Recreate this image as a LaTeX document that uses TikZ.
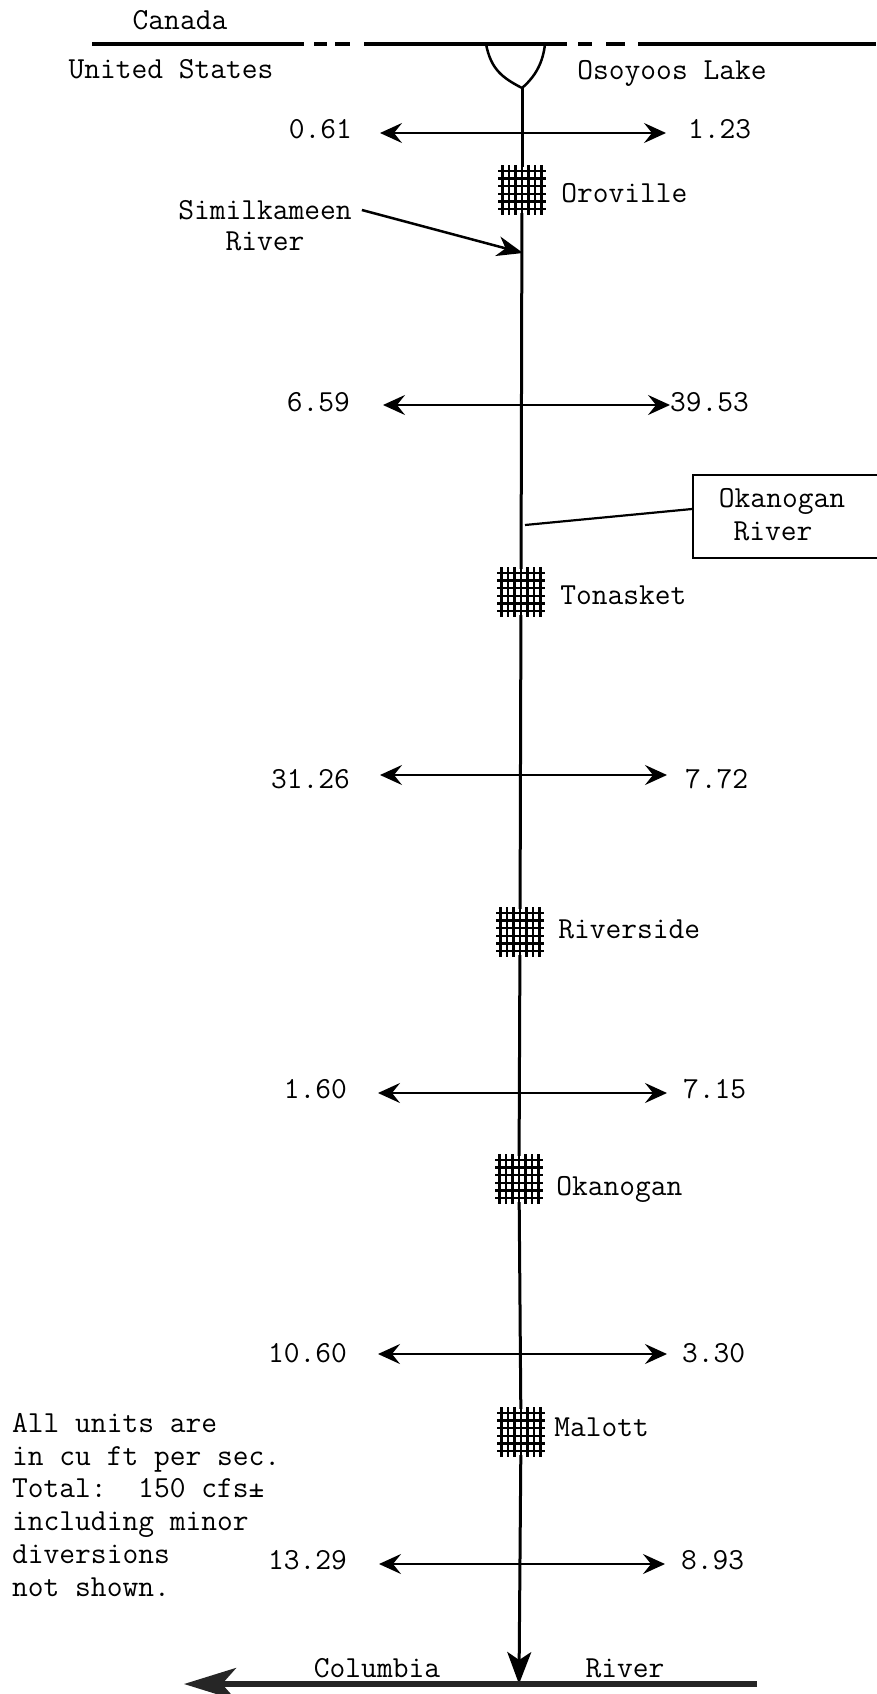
\documentclass[tikz,border=0pt]{standalone}
\usetikzlibrary{positioning,arrows.meta}

\begin{document}
\begin{tikzpicture}[
  x=1pt, y=-1pt,
  font=\ttfamily\fontsize{30.6}{32.8}\selectfont,
  texto/.style={inner sep=0pt, text height=18pt, text depth=0pt},
  nota/.style={inner sep=0pt, align=left, anchor=north west},
  town/.style={inner sep=0pt, minimum width=46pt, minimum height=46pt},
  towngrid/.pic={
    \foreach \gx in {-19.5,-13,-6.5,0,6.5,13,19.5} \draw[line width=2.3pt] (\gx,-25) -- (\gx,25);
    \foreach \gy in {-19,-11.4,-3.8,3.8,11.4,19} \draw[line width=2.3pt] (-24,\gy) -- (24,\gy);
  },
  rio/.style={line width=3pt},
  frontera/.style={line width=3.5pt},
  flujo/.style={{Stealth[length=22pt,width=20pt,inset=8pt]}-{Stealth[length=22pt,width=20pt,inset=8pt]}, line width=2.2pt},
  flecha/.style={-{Stealth[length=26pt,width=20pt,inset=8pt]}, line width=2.5pt}
]
\useasboundingbox (0,0) rectangle (876,1694);

% Frontera y lago
\coordinate (bordew) at (92,44);
\coordinate (bordee) at (876,44);
\coordinate (lakew) at (486,44);
\coordinate (lakee) at (545,44);
\coordinate (lakeend) at (522,88);
\draw[frontera, dash pattern=on 212pt off 10pt on 13pt off 8pt on 15pt off 14pt on 203pt off 11pt on 14pt off 14pt on 19pt off 13pt on 238pt] (bordew) -- (bordee);
\draw[line width=2.5pt] (lakew) .. controls (491,70) and (503,78) .. (lakeend) .. controls (536,76) and (543,62) .. (lakee);
\node[texto] (canada) at (180,21) {Canada};
\node[texto] (us) at (171,69) {United States};
\node[texto] (osoyoos) at (672,71) {Osoyoos Lake};

% Poblaciones
\node[town] (oroville) at (522,190) {};
\node[town] (tonasket) at (521,592) {};
\node[town] (riverside) at (520,932) {};
\node[town] (okanogan) at (519,1179) {};
\node[town] (malott) at (521,1432) {};
\pic at (oroville) {towngrid};
\pic at (tonasket) {towngrid};
\pic at (riverside) {towngrid};
\pic at (okanogan) {towngrid};
\pic at (malott) {towngrid};
\node[texto, right=16pt of oroville, yshift=-3pt] (orovilletxt) {Oroville};
\node[texto, right=16pt of tonasket, yshift=-3pt] (tonaskettxt) {Tonasket};
\node[texto, right=15pt of riverside, yshift=3pt] (riversidetxt) {Riverside};
\node[texto, right=14pt of okanogan, yshift=-7pt] (okanogantxt) {Okanogan};
\node[texto, right=10pt of malott, yshift=5pt] (malotttxt) {Malott};

% Rio Okanogan
\coordinate (confluence) at (519,1684);
\draw[rio] (lakeend) -- (oroville);
\draw[rio] (oroville) -- (tonasket);
\draw[rio] (tonasket) -- (riverside);
\draw[rio] (riverside) -- (okanogan);
\draw[rio] (okanogan) -- (malott);
\draw[rio, -{Stealth[length=32pt,width=24pt,inset=8pt]}] (malott) -- (confluence);

% Caudales
\coordinate (f1w) at (380,133);
\coordinate (f1e) at (666,133);
\node[texto, left=28pt of f1w, yshift=4pt] (q1w) {0.61};
\node[texto, right=22pt of f1e, yshift=4pt] (q1e) {1.23};
\draw[flujo] (f1w) -- (f1e);

\coordinate (f2w) at (383,405);
\coordinate (f2e) at (670,405);
\node[texto, left=33pt of f2w, yshift=3pt] (q2w) {6.59};
\node[texto, right=0pt of f2e, yshift=3pt] (q2e) {39.53};
\draw[flujo] (f2w) -- (f2e);

\coordinate (f3w) at (380,775);
\coordinate (f3e) at (667,775);
\node[texto, left=30pt of f3w, yshift=-4pt] (q3w) {31.26};
\node[texto, right=18pt of f3e, yshift=-4pt] (q3e) {7.72};
\draw[flujo] (f3w) -- (f3e);

\coordinate (f4w) at (378,1093);
\coordinate (f4e) at (667,1093);
\node[texto, left=31pt of f4w, yshift=4pt] (q4w) {1.60};
\node[texto, right=16pt of f4e, yshift=4pt] (q4e) {7.15};
\draw[flujo] (f4w) -- (f4e);

\coordinate (f5w) at (378,1354);
\coordinate (f5e) at (667,1354);
\node[texto, left=31pt of f5w, yshift=1pt] (q5w) {10.60};
\node[texto, right=15pt of f5e, yshift=1pt] (q5e) {3.30};
\draw[flujo] (f5w) -- (f5e);

\coordinate (f6w) at (379,1564);
\coordinate (f6e) at (665,1564);
\node[texto, left=32pt of f6w, yshift=4pt] (q6w) {13.29};
\node[texto, right=16pt of f6e, yshift=4pt] (q6e) {8.93};
\draw[flujo] (f6w) -- (f6e);

% Similkameen
\coordinate (simend) at (523,253);
\node[texto] (simil) at (265,210) {Similkameen};
\node[texto] (simriver) at (265,241) {River};
\draw[flecha] (simil.east) ++(10pt,0pt) coordinate (simstart) -- (simend);

% Caja Okanogan River
\coordinate (okrv) at (525,525);
\node[draw, line width=2pt, inner sep=0pt, minimum width=190pt, minimum height=83pt, anchor=north west] (okbox) at (692,474) {};
\node[texto] (oktxt) at (782,498) {Okanogan};
\node[texto] (okrivertxt) at (773,531) {River};
\draw[line width=2.2pt] (okrv) -- ([yshift=7.5pt]okbox.west);

% Columbia
\coordinate (colw) at (184,1684);
\coordinate (cole) at (757,1684);
\draw[line width=5.5pt, black!85, -{Stealth[length=52pt,width=32pt,inset=14pt]}] (cole) -- (colw);
\node[texto] (columbia) at (377,1668) {Columbia};
\node[texto] (colriver) at (625,1668) {River};

% Nota
\node[nota] (units) at (12,1413) {All units are\\in cu ft per sec.\\Total:\ \ 150 cfs±\\including minor\\diversions\\not shown.};
\end{tikzpicture}
\end{document}
